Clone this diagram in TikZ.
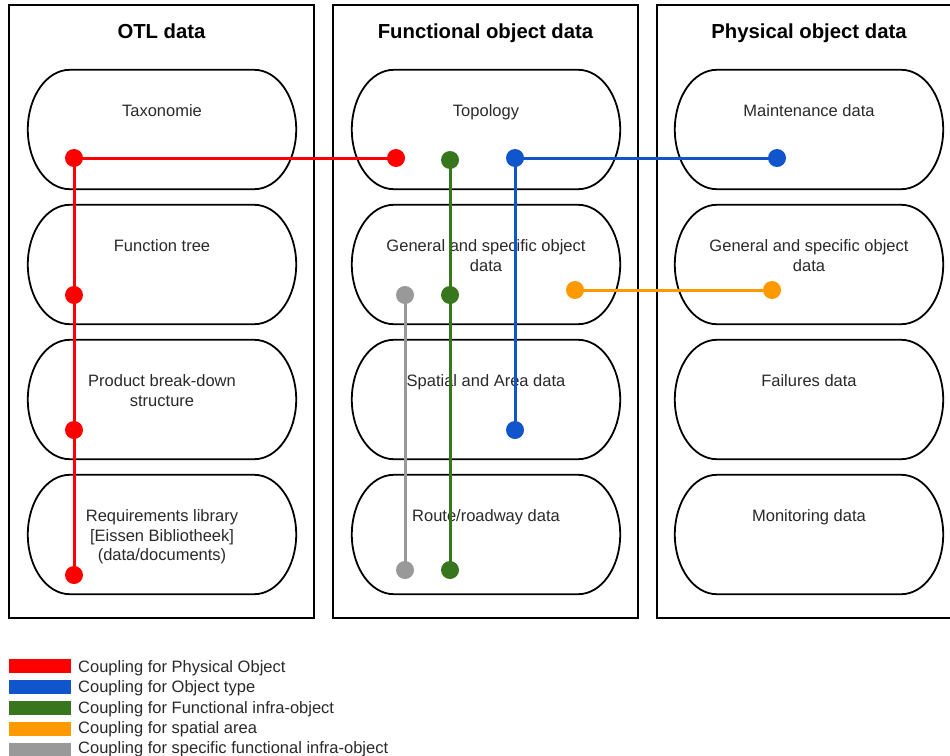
\documentclass[tikz,border=0pt]{standalone}
\usepackage{fontspec}
\setmainfont{Liberation Sans}
\usetikzlibrary{calc}
\definecolor{cred}{HTML}{FF0000}
\definecolor{cblue}{HTML}{1155CC}
\definecolor{cgreen}{HTML}{38761D}
\definecolor{corange}{HTML}{FF9900}
\definecolor{cgray}{HTML}{999999}
\definecolor{txt}{HTML}{2A2A2A}
\newcommand\drawpill[1]{%
  \draw[pillline] ($(#1.north west)+(42,0)$) -- ($(#1.north east)+(-42,0)$)
    .. controls +(23.2,0) and +(0,-32.9) .. (#1.east)
    .. controls +(0,32.9) and +(23.2,0) .. ($(#1.south east)+(-42,0)$)
    -- ($(#1.south west)+(42,0)$)
    .. controls +(-23.2,0) and +(0,32.9) .. (#1.west)
    .. controls +(0,-32.9) and +(-23.2,0) .. ($(#1.north west)+(42,0)$) -- cycle;}
\begin{document}
\begin{tikzpicture}[x=1pt,y=-1pt,
  column/.style={draw=black, line width=2pt, minimum width=305pt, minimum height=613pt, inner sep=0pt},
  pillbox/.style={minimum width=268pt, minimum height=119pt, inner sep=0pt},
  pillline/.style={draw=black, line width=1.8pt},
  pilltext/.style={anchor=north, inner sep=0pt, align=center, text=txt, font=\fontsize{16.5}{19.3}\selectfont},
  colhead/.style={anchor=base, inner sep=0pt, font=\bfseries\fontsize{20.3}{24}\selectfont},
  cdot/.style={circle, fill=#1, minimum size=18pt, inner sep=0pt},
  clink/.style={draw=#1, line width=3pt},
  swatch/.style={fill=#1, minimum width=62pt, minimum height=14pt, inner sep=0pt},
  legtext/.style={anchor=base west, inner sep=0pt, text=txt, font=\fontsize{16.5}{19.3}\selectfont}]
\useasboundingbox (0,0) rectangle (950,755);
\clip (0,0) rectangle (950,755);
\fill[white] (0,0) rectangle (950,755);
% columns
\node[column] (f1) at (161.5,311.5) {};
\node[column] (f2) at (485.5,311.5) {};
\node[column] (f3) at (809,311.5) {};
\node[colhead] (h1) at (161.5,38) {OTL data};
\node[colhead] (h2) at (485.5,38) {Functional object data};
\node[colhead] (h3) at (809,38) {Physical object data};
% pills
\foreach \c/\x in {1/162,2/486,3/809}{
  \foreach \r/\y in {1/129.5,2/264.5,3/399.5,4/534.5}{
    \node[pillbox] (p\c\r) at (\x,\y) {};
    \drawpill{p\c\r}
  }
}
\node[pilltext] (t11) at ($(p11.north)+(0,35)$) {Taxonomie};
\node[pilltext] (t12) at ($(p12.north)+(0,35)$) {Function tree};
\node[pilltext] (t13) at ($(p13.north)+(0,35)$) {Product break-down\\structure};
\node[pilltext] (t14) at ($(p14.north)+(0,35)$) {Requirements library\\{}[Eissen Bibliotheek]\\(data/documents)};
\node[pilltext] (t21) at ($(p21.north)+(0,35)$) {Topology};
\node[pilltext] (t22) at ($(p22.north)+(0,35)$) {General and specific object\\data};
\node[pilltext] (t23) at ($(p23.north)+(0,35)$) {Spatial and Area data};
\node[pilltext] (t24) at ($(p24.north)+(0,35)$) {Route/roadway data};
\node[pilltext] (t31) at ($(p31.north)+(0,35)$) {Maintenance data};
\node[pilltext] (t32) at ($(p32.north)+(0,35)$) {General and specific object\\data};
\node[pilltext] (t33) at ($(p33.north)+(0,35)$) {Failures data};
\node[pilltext] (t34) at ($(p34.north)+(0,35)$) {Monitoring data};
% dots
\node[cdot=cred] (r1) at (74,158) {};
\node[cdot=cred] (r2) at (396,158) {};
\node[cdot=cred] (r3) at (74,295) {};
\node[cdot=cred] (r4) at (74,430) {};
\node[cdot=cred] (r5) at (74,575) {};
\node[cdot=cgreen] (g1) at (450,160) {};
\node[cdot=cgreen] (g2) at (450,295) {};
\node[cdot=cgreen] (g3) at (450,570) {};
\node[cdot=cblue] (b1) at (515,158) {};
\node[cdot=cblue] (b2) at (777,158) {};
\node[cdot=cblue] (b3) at (515,430) {};
\node[cdot=corange] (o1) at (575,290) {};
\node[cdot=corange] (o2) at (772,290) {};
\node[cdot=cgray] (y1) at (405,295) {};
\node[cdot=cgray] (y2) at (405,570) {};
% links
\draw[clink=cred] (r1.center) -- (r2.center);
\draw[clink=cred] (r1.center) -- (r5.center);
\draw[clink=cgreen] (g1.center) -- (g3.center);
\draw[clink=cblue] (b1.center) -- (b2.center);
\draw[clink=cblue] (b1.center) -- (b3.center);
\draw[clink=corange] (o1.center) -- (o2.center);
\draw[clink=cgray] (y1.center) -- (y2.center);
% legend
\node[swatch=cred] (s1) at (40,666) {};
\node[swatch=cblue] (s2) at (40,687) {};
\node[swatch=cgreen] (s3) at (40,708) {};
\node[swatch=corange] (s4) at (40,729) {};
\node[swatch=cgray] (s5) at (40,750) {};
\node[legtext] (l1) at (78,672) {Coupling for Physical Object};
\node[legtext] (l2) at (78,692.5) {Coupling for Object type};
\node[legtext] (l3) at (78,713) {Coupling for Functional infra-object};
\node[legtext] (l4) at (78,733.3) {Coupling for spatial area};
\node[legtext] (l5) at (78,753.6) {Coupling for specific functional infra-object};
\end{tikzpicture}
\end{document}
